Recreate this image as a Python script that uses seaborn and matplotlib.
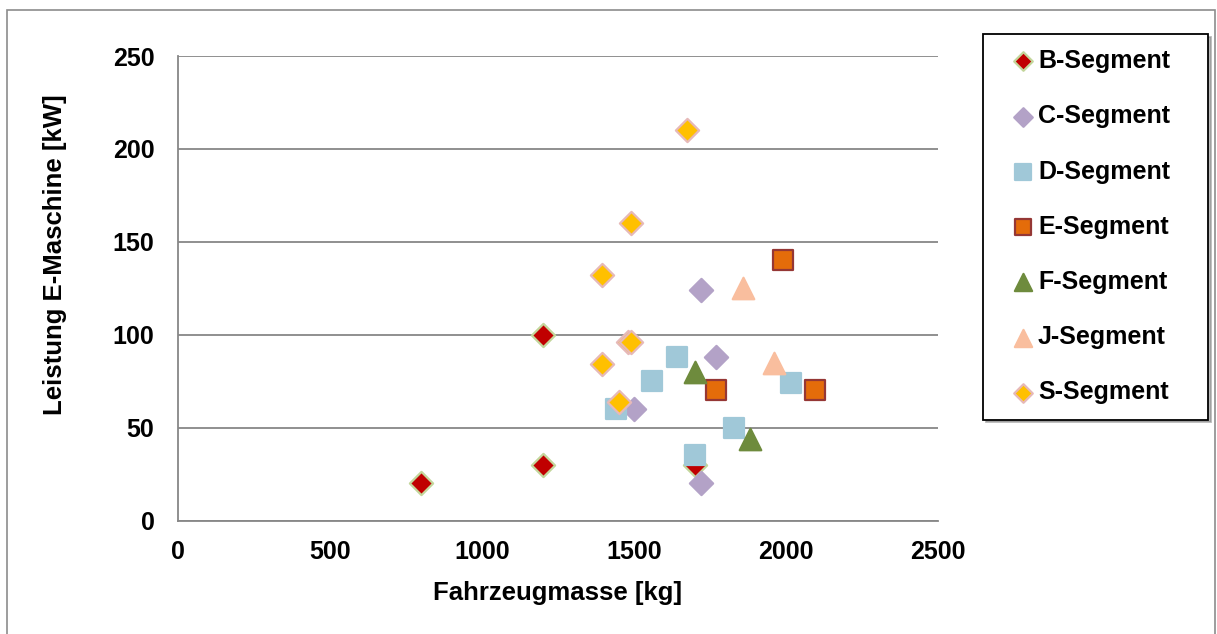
import matplotlib
matplotlib.use("Agg")
import matplotlib.pyplot as plt
import matplotlib.patches as mpatches
import seaborn as sns
import pandas as pd

# --- Daten: Fahrzeugmasse [kg] und Leistung E-Maschine [kW] je Segment ---
b_mass = [800, 1200, 1200, 1700]
b_power = [20, 100, 30, 30]
c_mass = [1720, 1770, 1500, 1720]
c_power = [124, 88, 60, 20]
d_mass = [1440, 1560, 1640, 1700, 1830, 2015]
d_power = [60, 75, 88, 35, 50, 74]
e_mass = [1990, 1770, 2095]
e_power = [140, 70, 70]
f_mass = [1700, 1880]
f_power = [80, 44]
j_mass = [1860, 1960]
j_power = [125, 85]
s_mass = [1675, 1490, 1395, 1480, 1490, 1395, 1450]
s_power = [210, 160, 132, 96, 96, 84, 64]

segments = ["B-Segment", "C-Segment", "D-Segment", "E-Segment",
            "F-Segment", "J-Segment", "S-Segment"]
masses = [b_mass, c_mass, d_mass, e_mass, f_mass, j_mass, s_mass]
powers = [b_power, c_power, d_power, e_power, f_power, j_power, s_power]

x_ticks = [0, 500, 1000, 1500, 2000, 2500]
y_ticks = [0, 50, 100, 150, 200, 250]

# Darstellung je Segment: Marker, Füllung, Rand, Größe
styles = {
    "B-Segment": ("D", "#C00000", "#C3D69B", 140),
    "C-Segment": ("D", "#B3A2C7", "#B3A2C7", 140),
    "D-Segment": ("s", "#A0C8D8", "#A0C8D8", 215),
    "E-Segment": ("s", "#E46C0A", "#953735", 215),
    "F-Segment": ("^", "#6E8B3D", "#6E8B3D", 240),
    "J-Segment": ("^", "#F9BE9E", "#F9BE9E", 240),
    "S-Segment": ("D", "#FFC000", "#E6B9B8", 140),
}

frames = []
for seg, m, p in zip(segments, masses, powers):
    frames.append(pd.DataFrame({"Segment": seg, "Masse": m, "Leistung": p}))
df = pd.concat(frames, ignore_index=True)

sns.set_style("white")
plt.rcParams["font.family"] = ["Liberation Sans", "DejaVu Sans"]
plt.rcParams["font.weight"] = "bold"
plt.rcParams["text.color"] = "black"
plt.rcParams["axes.labelcolor"] = "black"

fig = plt.figure(figsize=(12.17, 6.34), dpi=100)
ax = fig.add_axes([178 / 1217, 1 - 520.5 / 634, 760 / 1217, 464.5 / 634])

grid_col = "#878787"
for seg in segments:
    marker, fill, edge, size = styles[seg]
    sns.scatterplot(data=df[df["Segment"] == seg], x="Masse", y="Leistung",
                    marker=marker, color=fill, edgecolor=edge, linewidth=1.6,
                    s=size, label=seg, ax=ax, zorder=3, clip_on=False)

ax.set_xlim(0, 2500)
ax.set_ylim(0, 250)
ax.set_xticks(x_ticks)
ax.set_yticks(y_ticks)
ax.tick_params(axis="both", labelsize=18, colors=grid_col, labelcolor="black",
               length=8, width=1.3, direction="out")
ax.tick_params(axis="y", pad=9)
ax.tick_params(axis="x", pad=6)
for lbl in ax.get_xticklabels() + ax.get_yticklabels():
    lbl.set_fontweight("bold")

ax.yaxis.grid(True, color=grid_col, linewidth=1.3)
ax.xaxis.grid(False)
ax.set_axisbelow(True)
for side in ["top", "right"]:
    ax.spines[side].set_visible(False)
for side in ["left", "bottom"]:
    ax.spines[side].set_color(grid_col)
    ax.spines[side].set_linewidth(1.3)

ax.set_xlabel("Fahrzeugmasse [kg]", fontsize=18.5, fontweight="bold", labelpad=12)
ax.set_ylabel("Leistung E-Maschine [kW]", fontsize=18.5, fontweight="bold")
ax.yaxis.set_label_coords((67 - 178) / 760, (520.5 - 255) / 464.5)

leg = ax.legend(loc="upper left",
                bbox_to_anchor=(983 / 1217, 1 - 417 / 634, 225 / 1217, 383 / 634),
                bbox_transform=fig.transFigure, mode="expand", frameon=True,
                fancybox=False, shadow={"color": "0.55", "alpha": 0.6},
                prop={"size": 18, "weight": "bold"}, labelspacing=1.25,
                borderpad=0.6, handlelength=2.0, handletextpad=-0.4,
                borderaxespad=0, markerscale=0.8)
leg.get_frame().set_edgecolor("black")
leg.get_frame().set_linewidth(1.3)

# äußerer Rahmen
fig.patches.append(mpatches.Rectangle((7 / 1217, -0.1), 1208 / 1217, 1.1 - 10 / 634,
                                      transform=fig.transFigure, fill=False,
                                      edgecolor="#8C8C8C", linewidth=1.2))

fig.savefig("out.png", dpi=100)
